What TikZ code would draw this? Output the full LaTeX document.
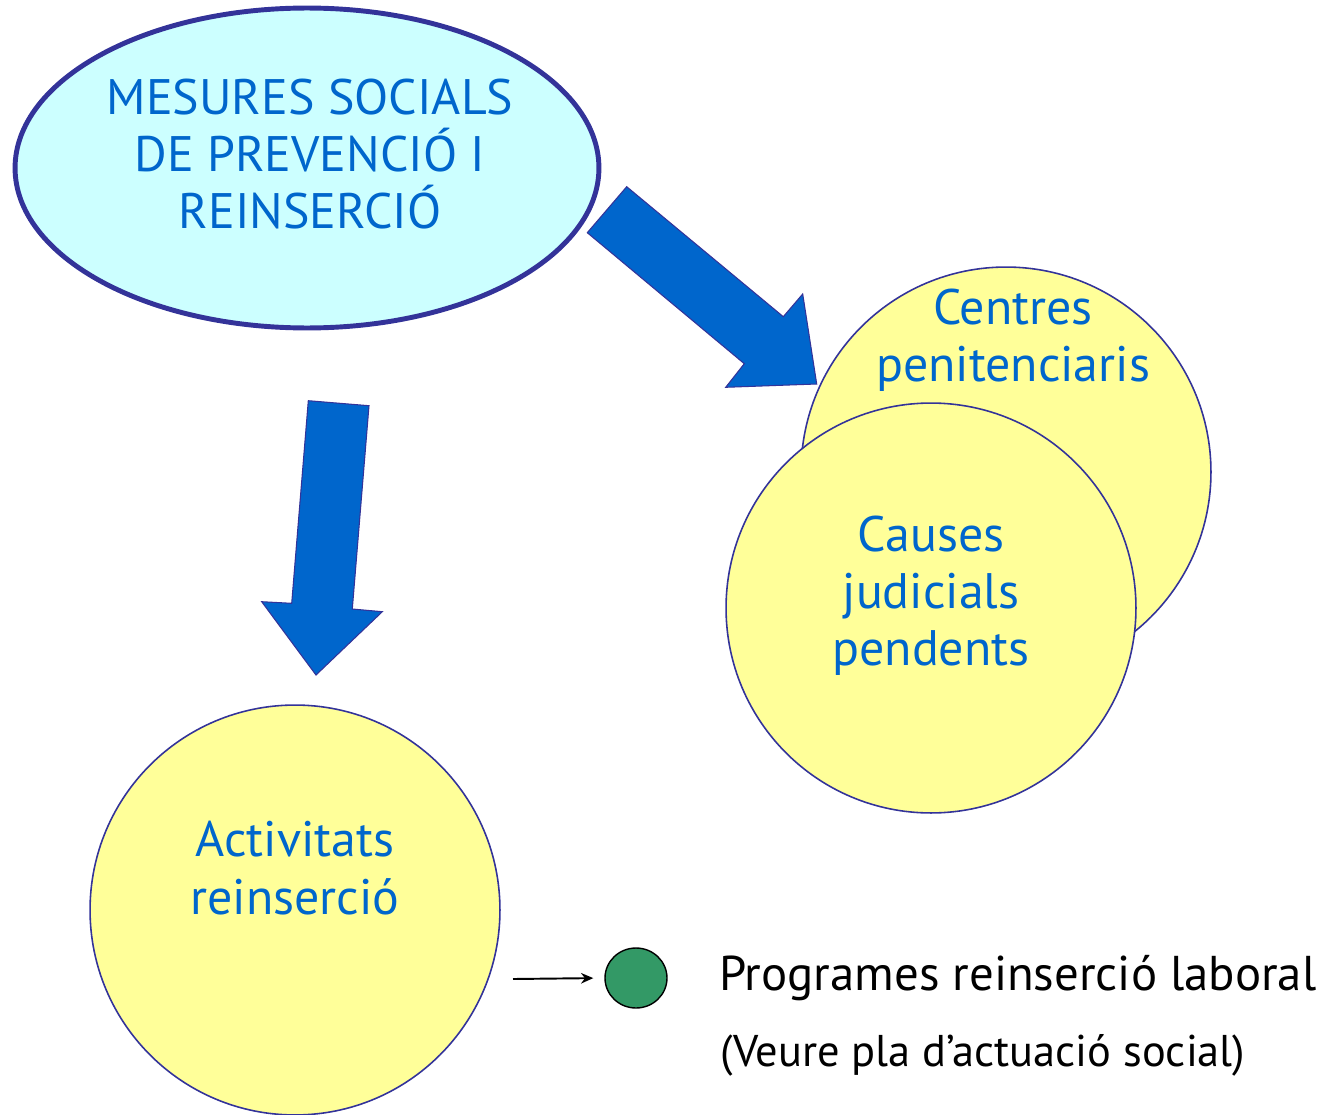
\documentclass[tikz,border=0pt]{standalone}
\usepackage{fontspec}
\setmainfont{PT Sans}
\usetikzlibrary{shapes.geometric, arrows.meta, positioning}

\definecolor{titleblue}{RGB}{0,102,204}
\definecolor{edgeblue}{RGB}{51,51,153}
\definecolor{pale}{RGB}{255,255,153}
\definecolor{cyanfill}{RGB}{204,255,255}
\definecolor{arrowblue}{RGB}{0,102,204}
\definecolor{progreen}{RGB}{51,153,102}

\tikzset{
    bubble/.style={circle, draw=edgeblue, fill=pale, line width=0.9pt, minimum size=8.2cm, inner sep=0pt},
    bigtext/.style={align=center, text=titleblue, font=\fontsize{28.4}{32.5}\selectfont},
    fatarrow/.style={fill=arrowblue, draw=edgeblue, line width=0.6pt, line join=miter}
}

\begin{document}
\begin{tikzpicture}[x=0.02cm, y=-0.02cm]
    \useasboundingbox (0, 0) rectangle (1325, 1115);
    % main ellipse
    \node[ellipse, draw=edgeblue, fill=cyanfill, line width=2.8pt, minimum width=11.68cm, minimum height=6.4cm] (mesures) at (307, 168) {};
    \node[bigtext] (mesurestxt) at (310, 154) {MESURES SOCIALS\\DE PREVENCIÓ I\\REINSERCIÓ};
    % circles
    \node[bubble] (centres) at (1006, 472) {};
    \node[bubble] (causes) at (931, 608) {};
    \node[bubble] (activ) at (295, 910) {};
    \node[bigtext] (centrestxt) at (1013, 340) {Centres\\penitenciaris};
    \node[bigtext] (causestxt) at (931, 596) {Causes\\judicials\\pendents};
    \node[bigtext] (activtxt) at (295, 868) {Activitats\\reinserció};
    % big arrows
    \draw[fatarrow] (626.7, 186.7) -- (587.3, 232.7) -- (744.3, 363.7) -- (725.7, 387.3)
        -- (816.7, 384) -- (802.7, 294) -- (783.3, 316.7) -- cycle;
    \draw[fatarrow] (308.3, 400.7) -- (369, 405.7) -- (352.3, 609) -- (382.3, 611.7)
        -- (316, 675) -- (261.7, 601.7) -- (291.7, 603.3) -- cycle;
    % legend
    \node[ellipse, draw=black, fill=progreen, line width=0.8pt, minimum width=1.24cm, minimum height=1.2cm, inner sep=0pt] (prog) at (636, 978) {};
    \coordinate (tail) at (513, 979);
    \draw[-{Stealth[length=7pt, width=6pt]}, line width=1.1pt, shorten >=0.22cm] (tail) -- (prog.west);
    \node[anchor=base west, font=\fontsize{27.8}{32}\selectfont] (progtxt) at (713, 990) {Programes reinserció laboral};
    \node[anchor=base west, font=\fontsize{25.3}{30}\selectfont] (veure) at (714, 1066) {(Veure pla d’actuació social)};
\end{tikzpicture}
\end{document}
